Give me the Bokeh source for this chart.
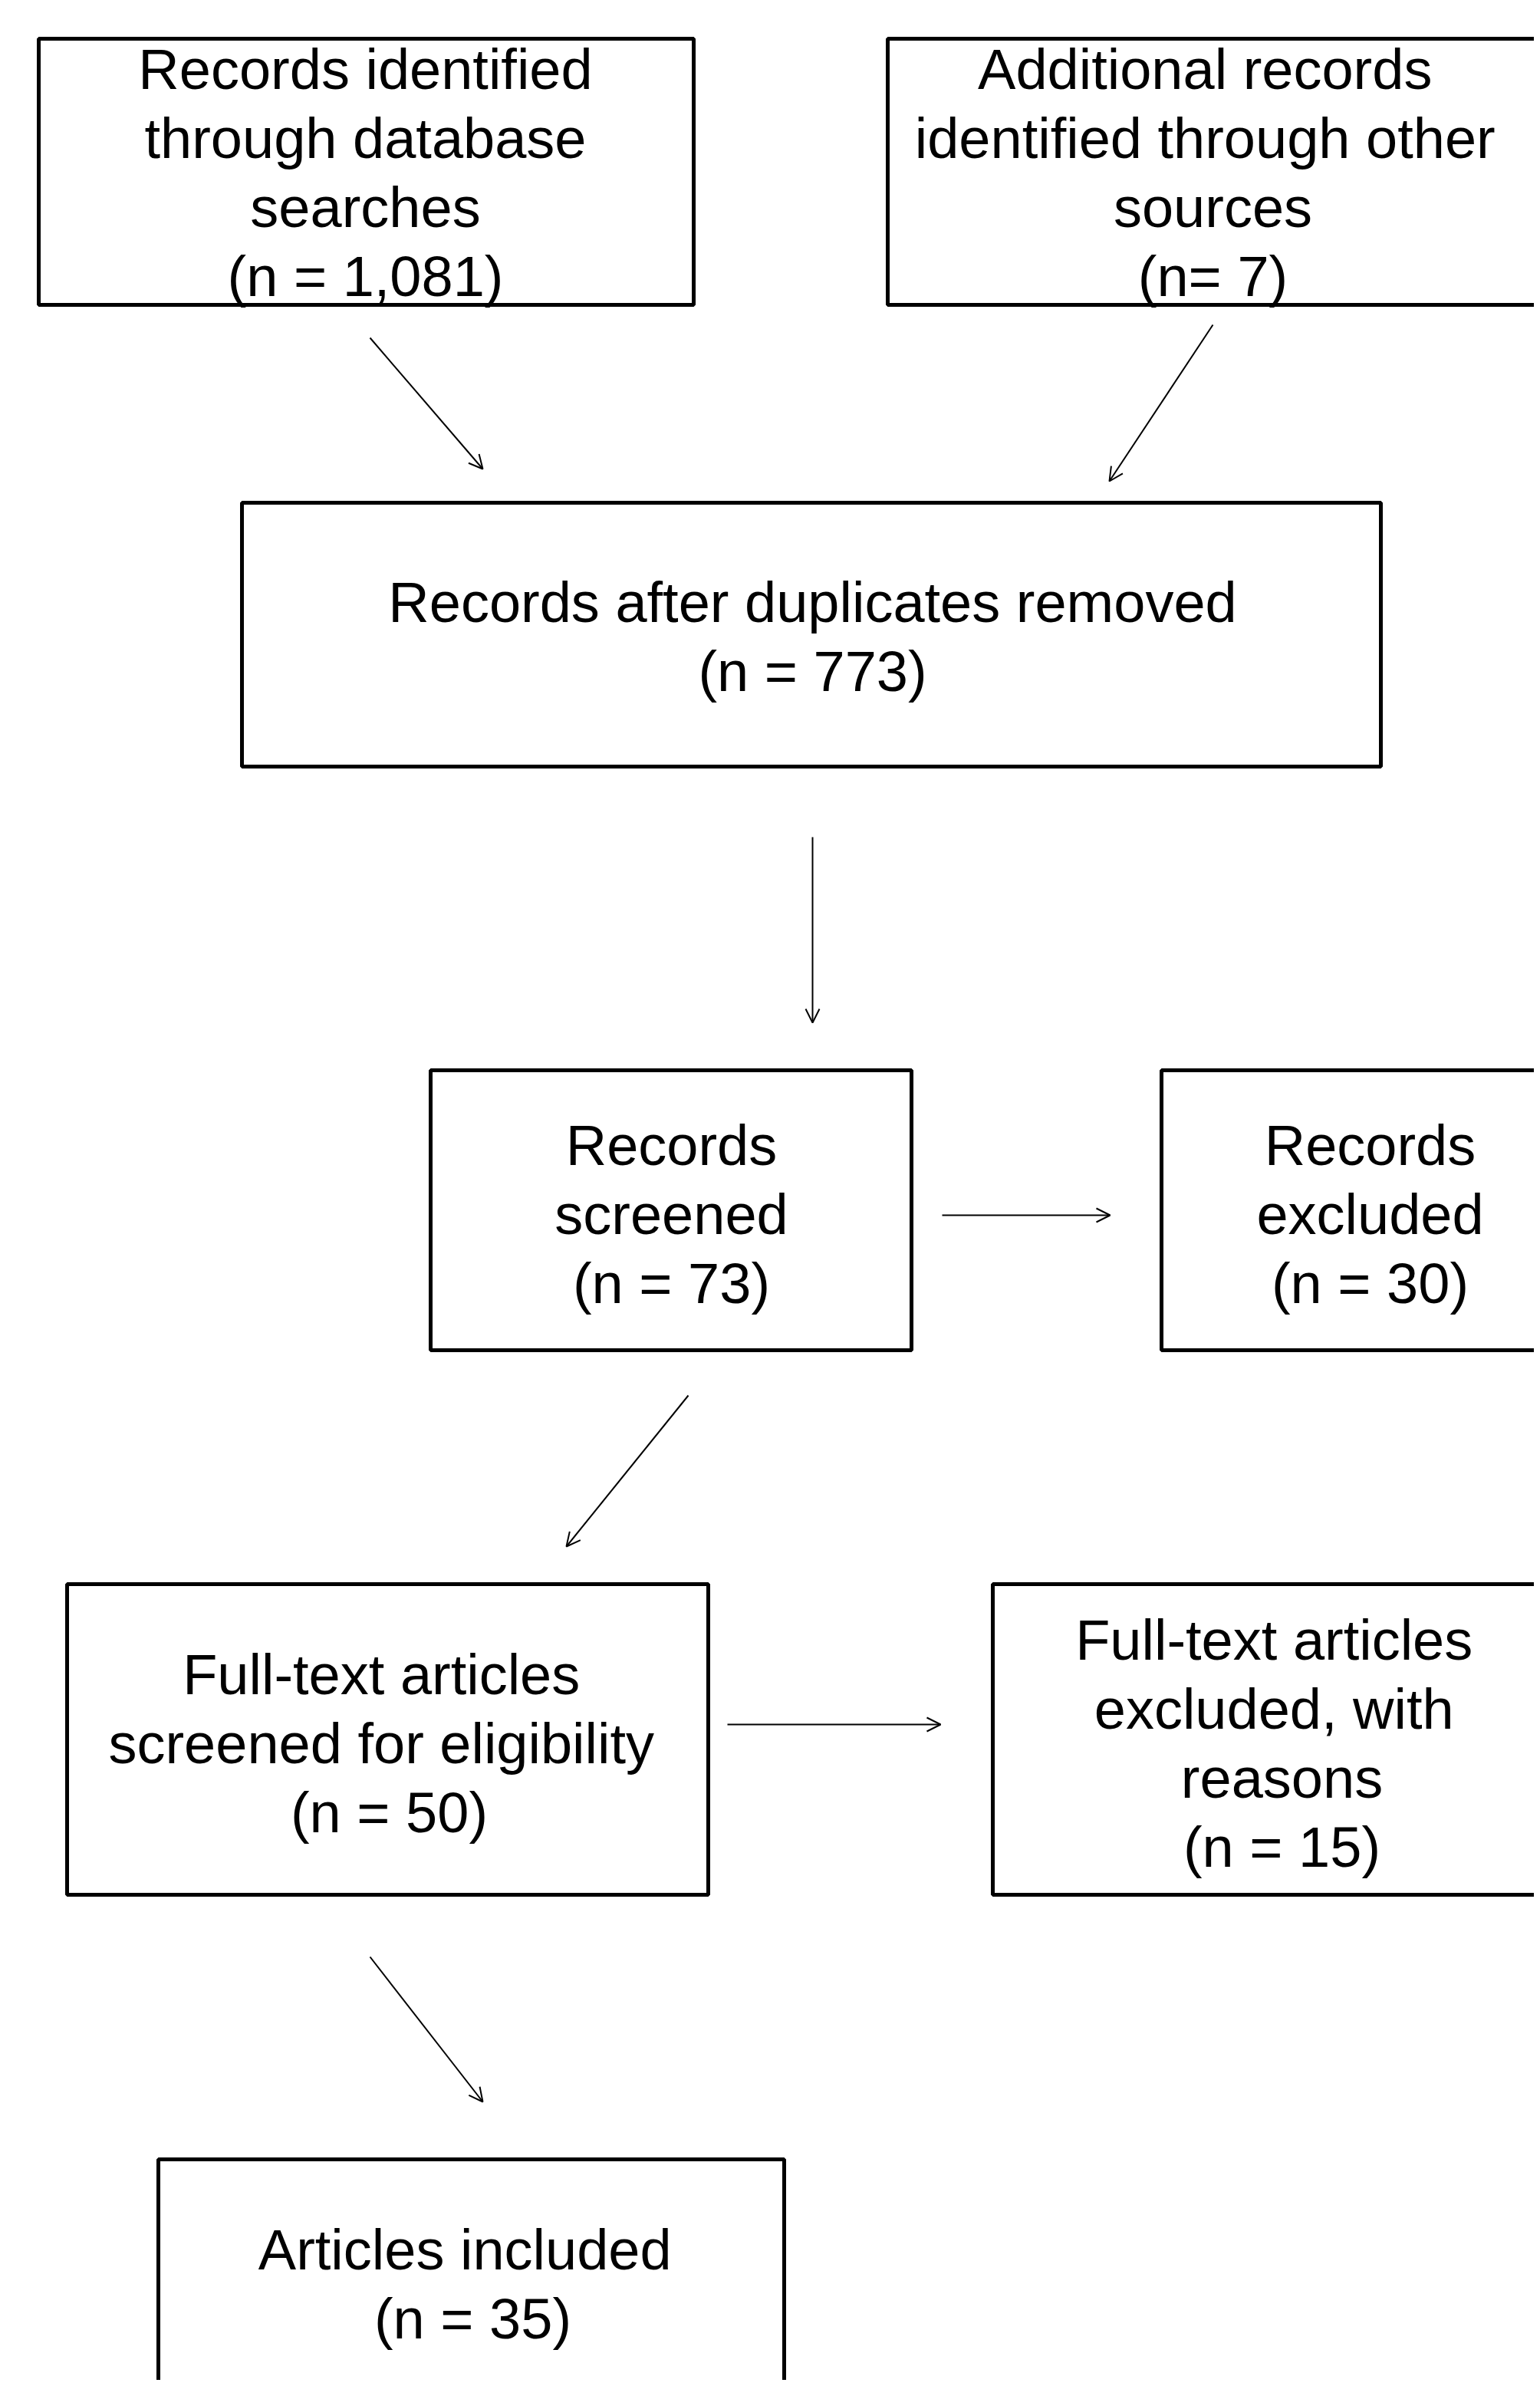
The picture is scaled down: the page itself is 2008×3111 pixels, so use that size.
from bokeh.plotting import figure
from bokeh.models import Range1d, Arrow, OpenHead, ColumnDataSource
from bokeh.core.properties import value
from bokeh.embed import file_html
from bokeh.resources import INLINE

# ---- data: PRISMA flow stages ----
stage_titles = [
    ["Records identified", "through database", "searches"],
    ["Additional  records", "identified  through other", "sources"],
    ["Records after duplicates removed"],
    ["Records", "screened"],
    ["Records", "excluded"],
    ["Full-text  articles", "screened  for eligibility"],
    ["Full-text  articles", "excluded,  with", "reasons"],
    ["Articles  included"],
]
stage_counts = [1081, 7, 773, 73, 30, 50, 15, 35]
count_labels = ["(n = 1,081)", "(n= 7)", "(n = 773)", "(n = 73)",
                "(n = 30)", "(n = 50)", "(n = 15)", "(n = 35)"]

# flow links between stages (from index -> to index)
links = [(0, 2), (1, 2), (2, 3), (3, 4), (3, 5), (5, 6), (5, 7)]

# ---- layout (pixel coordinates, y downwards) ----
box_left = [50, 1157, 315, 561, 1514, 87, 1294, 206]
box_right = [904, 2060, 1800, 1188, 2060, 923, 2060, 1022]
box_top = [50, 50, 655, 1395, 1395, 2065, 2065, 2815]
box_bottom = [397, 397, 999, 1760, 1760, 2470, 2470, 3200]
text_cx = [476, 1581, 1059, 875, 1786, 507, 1671, 616]
first_baseline = [115, 115, 810, 1518, 1518, 2208, 2163, 2958]
line_step = 90
baseline_fix = -25

arrow_start = [(482, 440), (1581, 423), (1059, 1091), (1228, 1584),
               (897, 1819), (948, 2248), (482, 2551)]
arrow_end = [(629, 611), (1446, 627), (1059, 1333), (1447, 1584),
             (738, 2016), (1226, 2248), (629, 2740)]

W, H = 2000, 3103
p = figure(width=W, height=H, output_backend="svg", toolbar_location=None,
           x_range=Range1d(0, W), y_range=Range1d(H, 0),
           min_border=0, background_fill_color="white",
           border_fill_color="white")
p.axis.visible = False
p.grid.visible = False
p.outline_line_color = None

p.quad(left=box_left, right=box_right, top=box_top, bottom=box_bottom,
       fill_color=None, line_color="black", line_width=5)

xs, ys, txt = [], [], []
for i, title in enumerate(stage_titles):
    lines = title + [count_labels[i]]
    for k, ln in enumerate(lines):
        xs.append(text_cx[i])
        ys.append(first_baseline[i] + k * line_step + baseline_fix)
        txt.append(ln)
src = ColumnDataSource(dict(x=xs, y=ys, t=txt))
p.text(x="x", y="y", text="t", source=src, text_align="center",
       text_baseline="alphabetic", text_font=value("Liberation Sans"),
       text_font_size="74px", text_color="black")

for (x0, y0), (x1, y1) in zip(arrow_start, arrow_end):
    p.add_layout(Arrow(x_start=x0, y_start=y0, x_end=x1, y_end=y1,
                       line_color="black", line_width=2,
                       end=OpenHead(size=18, line_width=2, line_color="black")))

open("out.html", "w").write(file_html(p, INLINE))
